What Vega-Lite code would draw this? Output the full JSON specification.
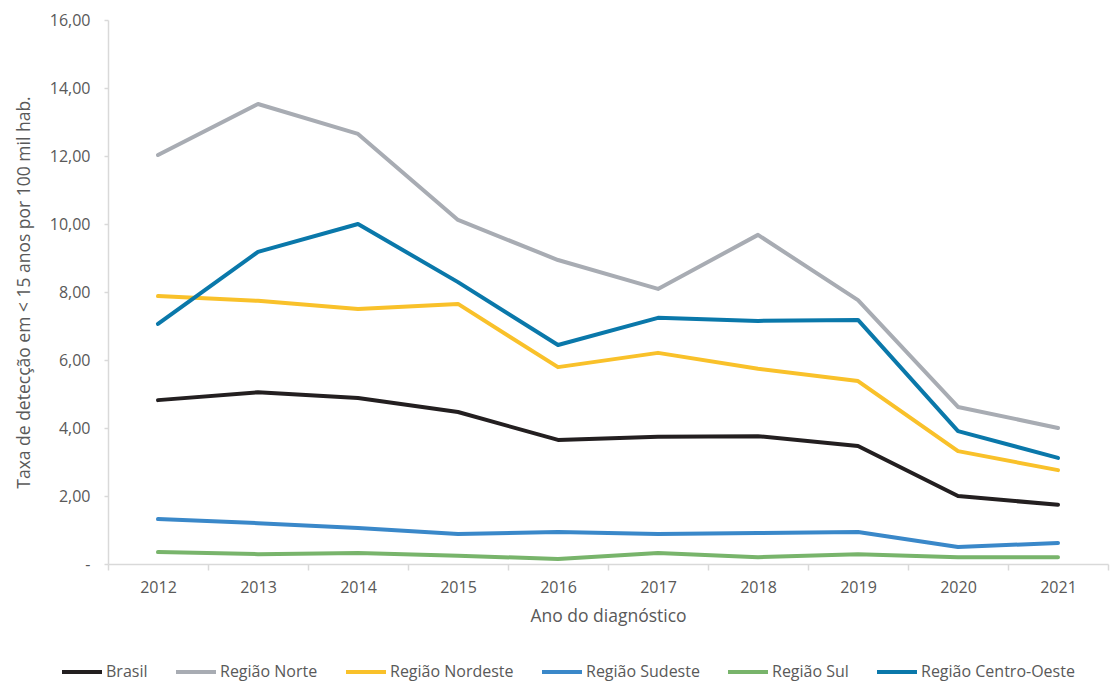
{
  "$schema": "https://vega.github.io/schema/vega-lite/v6.json",
  "autosize": {"type": "none"},
  "width": 1000,
  "height": 544,
  "padding": {"left": 108, "top": 20, "right": 5, "bottom": 118},
  "background": "white",
  "config": {
    "view": {"stroke": null},
    "font": "Open Sans"
  },
  "data": {
    "values": [
      {"ano": "2012", "regiao": "Brasil", "taxa": 4.82},
      {"ano": "2013", "regiao": "Brasil", "taxa": 5.05},
      {"ano": "2014", "regiao": "Brasil", "taxa": 4.88},
      {"ano": "2015", "regiao": "Brasil", "taxa": 4.47},
      {"ano": "2016", "regiao": "Brasil", "taxa": 3.65},
      {"ano": "2017", "regiao": "Brasil", "taxa": 3.74},
      {"ano": "2018", "regiao": "Brasil", "taxa": 3.76},
      {"ano": "2019", "regiao": "Brasil", "taxa": 3.47},
      {"ano": "2020", "regiao": "Brasil", "taxa": 2.0},
      {"ano": "2021", "regiao": "Brasil", "taxa": 1.74},
      {"ano": "2012", "regiao": "Região Norte", "taxa": 12.03},
      {"ano": "2013", "regiao": "Região Norte", "taxa": 13.53},
      {"ano": "2014", "regiao": "Região Norte", "taxa": 12.65},
      {"ano": "2015", "regiao": "Região Norte", "taxa": 10.12},
      {"ano": "2016", "regiao": "Região Norte", "taxa": 8.94},
      {"ano": "2017", "regiao": "Região Norte", "taxa": 8.09},
      {"ano": "2018", "regiao": "Região Norte", "taxa": 9.68},
      {"ano": "2019", "regiao": "Região Norte", "taxa": 7.76},
      {"ano": "2020", "regiao": "Região Norte", "taxa": 4.62},
      {"ano": "2021", "regiao": "Região Norte", "taxa": 4.0},
      {"ano": "2012", "regiao": "Região Nordeste", "taxa": 7.88},
      {"ano": "2013", "regiao": "Região Nordeste", "taxa": 7.74},
      {"ano": "2014", "regiao": "Região Nordeste", "taxa": 7.5},
      {"ano": "2015", "regiao": "Região Nordeste", "taxa": 7.65},
      {"ano": "2016", "regiao": "Região Nordeste", "taxa": 5.79},
      {"ano": "2017", "regiao": "Região Nordeste", "taxa": 6.21},
      {"ano": "2018", "regiao": "Região Nordeste", "taxa": 5.74},
      {"ano": "2019", "regiao": "Região Nordeste", "taxa": 5.38},
      {"ano": "2020", "regiao": "Região Nordeste", "taxa": 3.32},
      {"ano": "2021", "regiao": "Região Nordeste", "taxa": 2.76},
      {"ano": "2012", "regiao": "Região Sudeste", "taxa": 1.32},
      {"ano": "2013", "regiao": "Região Sudeste", "taxa": 1.2},
      {"ano": "2014", "regiao": "Região Sudeste", "taxa": 1.06},
      {"ano": "2015", "regiao": "Região Sudeste", "taxa": 0.88},
      {"ano": "2016", "regiao": "Região Sudeste", "taxa": 0.94},
      {"ano": "2017", "regiao": "Região Sudeste", "taxa": 0.88},
      {"ano": "2018", "regiao": "Região Sudeste", "taxa": 0.91},
      {"ano": "2019", "regiao": "Região Sudeste", "taxa": 0.94},
      {"ano": "2020", "regiao": "Região Sudeste", "taxa": 0.5},
      {"ano": "2021", "regiao": "Região Sudeste", "taxa": 0.62},
      {"ano": "2012", "regiao": "Região Sul", "taxa": 0.35},
      {"ano": "2013", "regiao": "Região Sul", "taxa": 0.29},
      {"ano": "2014", "regiao": "Região Sul", "taxa": 0.32},
      {"ano": "2015", "regiao": "Região Sul", "taxa": 0.24},
      {"ano": "2016", "regiao": "Região Sul", "taxa": 0.15},
      {"ano": "2017", "regiao": "Região Sul", "taxa": 0.32},
      {"ano": "2018", "regiao": "Região Sul", "taxa": 0.2},
      {"ano": "2019", "regiao": "Região Sul", "taxa": 0.29},
      {"ano": "2020", "regiao": "Região Sul", "taxa": 0.2},
      {"ano": "2021", "regiao": "Região Sul", "taxa": 0.2},
      {"ano": "2012", "regiao": "Região Centro-Oeste", "taxa": 7.06},
      {"ano": "2013", "regiao": "Região Centro-Oeste", "taxa": 9.18},
      {"ano": "2014", "regiao": "Região Centro-Oeste", "taxa": 10.0},
      {"ano": "2015", "regiao": "Região Centro-Oeste", "taxa": 8.29},
      {"ano": "2016", "regiao": "Região Centro-Oeste", "taxa": 6.44},
      {"ano": "2017", "regiao": "Região Centro-Oeste", "taxa": 7.24},
      {"ano": "2018", "regiao": "Região Centro-Oeste", "taxa": 7.15},
      {"ano": "2019", "regiao": "Região Centro-Oeste", "taxa": 7.18},
      {"ano": "2020", "regiao": "Região Centro-Oeste", "taxa": 3.91},
      {"ano": "2021", "regiao": "Região Centro-Oeste", "taxa": 3.12}
    ]
  },
  "mark": {"type": "line", "strokeWidth": 4, "strokeCap": "round", "strokeJoin": "round"},
  "encoding": {
    "x": {
      "field": "ano",
      "type": "ordinal",
      "scale": {"type": "band", "paddingInner": 0, "paddingOuter": 0},
      "axis": {
        "title": "Ano do diagnóstico",
        "titleFont": "Open Sans",
        "titleFontSize": 17.5,
        "titleFontWeight": "normal",
        "titleColor": "#595959",
        "titlePadding": 12,
        "labelAngle": 0,
        "labelFontSize": 16,
        "labelColor": "#595959",
        "labelPadding": 9,
        "domainColor": "#d9d9d9",
        "domainWidth": 1.5,
        "tickColor": "#d9d9d9",
        "tickSize": 6,
        "tickWidth": 1.5,
        "tickBand": "extent",
        "grid": false
      }
    },
    "y": {
      "field": "taxa",
      "type": "quantitative",
      "scale": {"domain": [0, 16], "nice": false},
      "axis": {
        "title": "Taxa de detecção em < 15 anos por 100 mil hab.",
        "titleFont": "Open Sans",
        "titleFontSize": 17.5,
        "titleFontWeight": "normal",
        "titleColor": "#595959",
        "titlePadding": 16,
        "values": [0, 2, 4, 6, 8, 10, 12, 14, 16],
        "labelExpr": "datum.value == 0 ? '-' : replace(format(datum.value, '.2f'), '.', ',')",
        "labelFontSize": 16,
        "labelColor": "#595959",
        "labelPadding": 14,
        "domainColor": "#d9d9d9",
        "domainWidth": 1.5,
        "tickColor": "#d9d9d9",
        "tickSize": 4,
        "tickWidth": 1.5,
        "grid": false
      }
    },
    "color": {
      "field": "regiao",
      "type": "nominal",
      "sort": ["Brasil", "Região Norte", "Região Nordeste", "Região Sudeste", "Região Sul", "Região Centro-Oeste"],
      "scale": {
        "domain": ["Brasil", "Região Norte", "Região Nordeste", "Região Sudeste", "Região Sul", "Região Centro-Oeste"],
        "range": ["#231f20", "#a8acb3", "#f9c12a", "#3a88c9", "#78b46b", "#0a78aa"]
      },
      "legend": {
        "title": null,
        "orient": "none",
        "legendX": -48,
        "legendY": 630,
        "direction": "horizontal",
        "symbolType": "stroke",
        "symbolStrokeWidth": 4,
        "symbolSize": 1600,
        "labelFontSize": 16,
        "labelColor": "#595959",
        "labelOffset": 2,
        "columnPadding": 20
      }
    }
  }
}
